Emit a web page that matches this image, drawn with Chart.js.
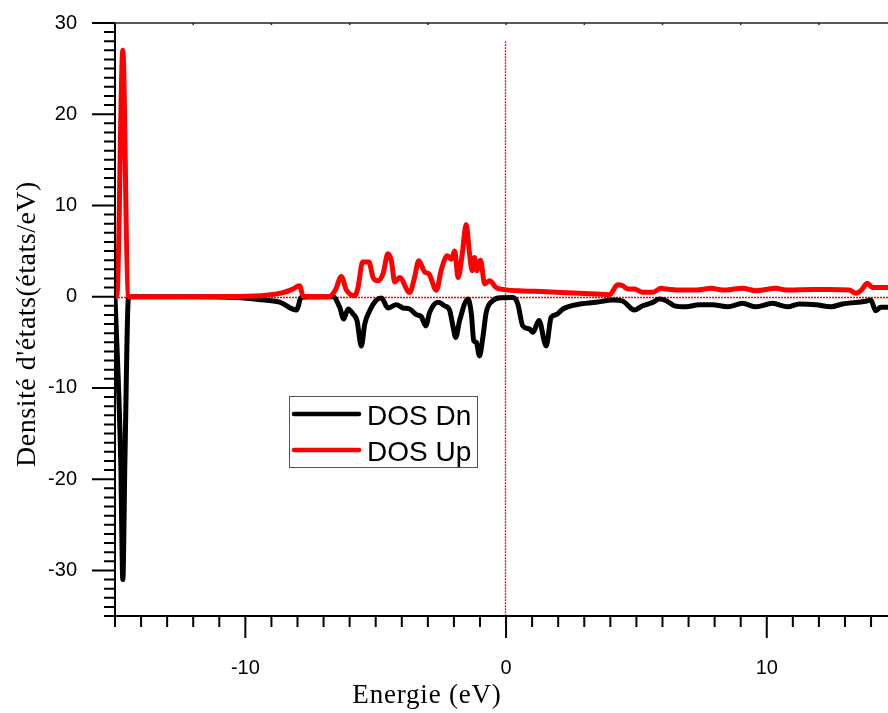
<!DOCTYPE html>
<html>
<head>
<meta charset="utf-8">
<script src="https://cdn.jsdelivr.net/npm/chart.js@4/dist/chart.umd.min.js"></script>
<style>
  html, body { margin: 0; padding: 0; background: #ffffff; }
  #wrap { width: 888px; height: 713px; position: relative; }
</style>
</head>
<body>
<div id="wrap"><canvas id="dosChart"></canvas></div>
<script>
// Données
const energyUp = [-15, -14.92, -14.70, -14.50, -14.40, -12, -10.5, -9.2, -8.55, -8.2, -7.92, -7.78,
  -6.8, -6.55, -6.32, -6.12, -5.8, -5.68, -5.5, -5.26, -5.1, -4.91, -4.72, -4.53, -4.40, -4.27, -4.08,
  -3.70, -3.51, -3.35, -3.12, -2.96, -2.67, -2.48, -2.25, -2.10, -1.97, -1.84, -1.68, -1.53, -1.40,
  -1.30, -1.21, -1.12, -0.98, -0.82, -0.63, -0.38, 0.0, 0.5, 1.54, 2.82, 3.97, 4.28, 4.48, 4.67, 4.92,
  5.24, 5.63, 5.95, 6.14, 6.65, 7.29, 7.86, 8.31, 9.07, 9.58, 10.35, 10.73, 11.76, 12.39, 13.16,
  13.42, 13.61, 13.86, 14.05, 14.65];
const dosUp = [0, 0.3, 27, 0.1, 0, 0, 0.02, 0.15, 0.45, 0.8, 1.2, 0.05,
  0, 0.7, 2.2, 0.7, 0.1, 1.0, 3.8, 3.8, 2.1, 1.75, 2.5, 4.7, 3.95, 1.6, 2.1,
  0.45, 2.1, 3.95, 2.7, 2.5, 0.7, 3.0, 4.5, 4.1, 5.0, 2.1, 4.7, 7.9, 4.7,
  2.85, 4.3, 2.85, 4.0, 1.4, 1.75, 1.0, 0.75, 0.65, 0.55, 0.37, 0.22, 1.3, 1.2, 0.85, 0.85,
  0.48, 0.48, 0.92, 0.84, 0.73, 0.73, 0.92, 0.73, 0.92, 0.66, 0.92, 0.73, 0.8, 0.8, 0.73,
  0.37, 0.66, 1.46, 1.02, 1.02];

const energyDn = [-15, -14.78, -14.70, -14.62, -14.48, -12, -10.34, -9.5, -8.68, -8.04, -7.85, -6.64, -6.38, -6.23,
  -6.06, -5.87, -5.72, -5.55, -5.42, -5.23, -4.97, -4.78, -4.53, -4.21, -3.95, -3.70, -3.44, -3.25,
  -3.08, -2.93, -2.61, -2.36, -2.16, -2.04, -1.93, -1.78, -1.46, -1.33, -1.24, -1.14, -1.02, -0.89,
  -0.76, -0.51, -0.19, 0.26, 0.45, 0.64, 0.90, 1.03, 1.26, 1.54, 1.73, 1.92, 2.18, 2.69, 3.46, 4.09,
  4.48, 4.92, 5.24, 5.63, 5.88, 6.14, 6.46, 6.9, 7.41, 7.92, 8.50, 9.07, 9.58, 10.22, 10.80, 11.25,
  11.89, 12.46, 12.9, 13.8, 13.99, 14.18, 14.37, 14.65];
const dosDn = [0, -18, -31, -18, 0, 0, -0.1, -0.3, -0.6, -1.46, -0.05, 0, -1.17, -2.45,
  -1.35, -1.9, -2.6, -5.4, -3.0, -1.54, -0.37, -0.15, -1.24, -0.88, -1.24, -1.35, -1.97, -2.2,
  -3.2, -1.72, -0.62, -1.0, -1.54, -3.2, -4.46, -2.6, -0.25, -1.9, -4.8, -5.0, -6.5, -4.46,
  -1.7, -0.45, -0.12, -0.1, -0.8, -3.2, -3.55, -3.9, -2.6, -5.4, -2.27, -1.97, -1.35, -0.88, -0.62, -0.37,
  -0.5, -1.46, -1.0, -0.62, -0.26, -0.44, -1.0, -1.1, -0.88, -0.88, -1.1, -0.73, -1.1, -0.73, -1.1, -0.8,
  -0.88, -1.1, -0.8, -0.5, -0.37, -1.54, -1.17, -1.17];

const xTicks = [-10, 0, 10];
const yTicks = [-30, -20, -10, 0, 10, 20, 30];
const xMin = -15, xMax = 14.65;
const yMin = -35, yMax = 30;
const fermiTop = 28;
const seriesLabels = ['DOS Dn', 'DOS Up'];
const seriesColors = ['#000000', '#ff0000'];

const toPoints = (xs, ys) => xs.map((x, i) => ({ x: x, y: ys[i] }));

// Axes, graduations, légende et titres dessinés à la main
const decor = {
  id: 'decor',
  beforeDatasetsDraw(chart) {
    const { ctx, chartArea, scales: { x, y } } = chart;
    ctx.save();
    ctx.strokeStyle = '#ff0000';
    ctx.lineWidth = 1.3;
    ctx.setLineDash([2, 1]);
    const y0 = Math.round(y.getPixelForValue(0)) + 0.5;
    ctx.beginPath();
    ctx.moveTo(chartArea.left, y0);
    ctx.lineTo(chartArea.right, y0);
    const x0 = Math.round(x.getPixelForValue(0)) - 0.5;
    ctx.moveTo(x0, y.getPixelForValue(fermiTop));
    ctx.lineTo(x0, chartArea.bottom);
    ctx.stroke();
    ctx.restore();
  },
  afterDraw(chart) {
    const { ctx, chartArea, scales: { x, y } } = chart;
    const left = chartArea.left, bottom = chartArea.bottom, top = chartArea.top;
    ctx.save();
    ctx.strokeStyle = '#000000';
    ctx.lineWidth = 2;
    ctx.beginPath();
    // axes
    ctx.moveTo(left, top);
    ctx.lineTo(left, bottom + 1);
    ctx.moveTo(left - 1, bottom);
    ctx.lineTo(chartArea.right, bottom);
    // graduations Y
    for (let v = yMin; v <= yMax; v++) {
      const py = y.getPixelForValue(v);
      const len = v % 10 === 0 ? 23 : 11;
      ctx.moveTo(left, py);
      ctx.lineTo(left - len, py);
    }
    // graduations X
    for (let v = xMin; v <= xMax; v++) {
      const px = x.getPixelForValue(v);
      const len = v % 10 === 0 ? 22 : 11;
      ctx.moveTo(px, bottom);
      ctx.lineTo(px, bottom + len);
    }
    ctx.stroke();

    // bord supérieur
    ctx.lineWidth = 1.5;
    ctx.strokeStyle = '#222222';
    ctx.beginPath();
    ctx.moveTo(left - 1, top);
    ctx.lineTo(chartArea.right, top);
    for (let v = xMin + 3; v <= xMax; v += 3) {
      const px = x.getPixelForValue(v);
      ctx.moveTo(px, top);
      ctx.lineTo(px, top + 2);
    }
    ctx.stroke();

    // légende
    ctx.lineWidth = 1;
    ctx.strokeStyle = '#555555';
    ctx.strokeRect(289.5, 396.5, 188, 71);
    const rows = [414, 450];
    ctx.lineCap = 'round';
    ctx.font = '28px "Liberation Sans", Arial, sans-serif';
    ctx.textBaseline = 'alphabetic';
    ctx.textAlign = 'left';
    seriesLabels.forEach((lab, i) => {
      ctx.strokeStyle = seriesColors[i];
      ctx.lineWidth = 4.5;
      ctx.beginPath();
      ctx.moveTo(294, rows[i]);
      ctx.lineTo(359, rows[i]);
      ctx.stroke();
      ctx.fillStyle = '#000000';
      ctx.fillText(lab, 367, rows[i] + 11);
    });

    // titres des axes
    ctx.fillStyle = '#000000';
    ctx.textAlign = 'center';
    ctx.font = '27px "Liberation Serif", "Times New Roman", serif';
    if ('letterSpacing' in ctx) ctx.letterSpacing = '0.8px';
    ctx.fillText('Energie (eV)', 427, 703);
    ctx.save();
    ctx.translate(35, 324);
    ctx.rotate(-Math.PI / 2);
    ctx.font = '28px "Liberation Serif", "Times New Roman", serif';
    if ('letterSpacing' in ctx) ctx.letterSpacing = '0.5px';
    ctx.fillText("Densité d'états(états/eV)", 0, 0);
    ctx.restore();
    ctx.restore();
  }
};

const ctx = document.getElementById('dosChart').getContext('2d');
const dosChart = new Chart(ctx, {
  type: 'line',
  data: {
    datasets: [{
      label: seriesLabels[0],
      data: toPoints(energyDn, dosDn),
      borderColor: seriesColors[0],
      borderWidth: 5,
      pointRadius: 0,
      cubicInterpolationMode: 'monotone',
      fill: false,
      order: 1
    }, {
      label: seriesLabels[1],
      data: toPoints(energyUp, dosUp),
      borderColor: seriesColors[1],
      borderWidth: 5,
      pointRadius: 0,
      cubicInterpolationMode: 'monotone',
      fill: false,
      order: 0
    }]
  },
  options: {
    responsive: true,
    maintainAspectRatio: false,
    animation: false,
    layout: { padding: { top: 23, right: 0, left: 0, bottom: 0 } },
    plugins: {
      legend: { display: false },
      tooltip: { enabled: false }
    },
    elements: { line: { borderJoinStyle: 'round', borderCapStyle: 'round' } },
    scales: {
      x: {
        type: 'linear',
        min: xMin,
        max: xMax,
        afterBuildTicks: (scale) => { scale.ticks = xTicks.map(v => ({ value: v })); },
        afterFit: (scale) => {
          scale.height = 97;
          scale.paddingLeft = 0; scale.paddingRight = 0;
          scale.paddingTop = 0; scale.paddingBottom = 0;
        },
        grid: { display: true, drawOnChartArea: false, drawTicks: false },
        border: { display: false },
        ticks: {
          color: '#000000',
          padding: 40,
          maxRotation: 0,
          font: { family: '"Liberation Sans", Arial, sans-serif', size: 20 }
        }
      },
      y: {
        type: 'linear',
        min: yMin,
        max: yMax,
        afterBuildTicks: (scale) => { scale.ticks = yTicks.map(v => ({ value: v })); },
        afterFit: (scale) => {
          scale.width = 115;
          scale.paddingLeft = 0; scale.paddingRight = 0;
          scale.paddingTop = 0; scale.paddingBottom = 0;
        },
        grid: { display: true, drawOnChartArea: false, drawTicks: false },
        border: { display: false },
        ticks: {
          color: '#000000',
          padding: 38,
          font: { family: '"Liberation Sans", Arial, sans-serif', size: 20 }
        }
      }
    }
  },
  plugins: [decor]
});
</script>
</body>
</html>
